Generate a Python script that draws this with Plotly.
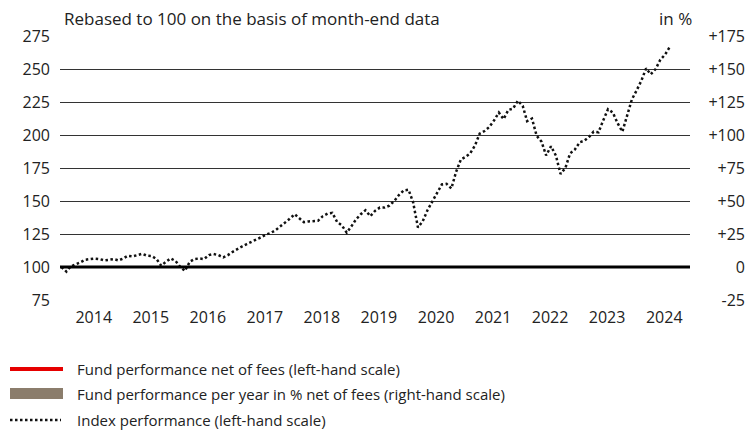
import pandas as pd
import plotly.graph_objects as go

# ---- data ----
index_values = [
    100, 96.5, 100.5, 101.8, 103.5, 105.5, 106.2, 106.4, 106, 105, 105.5, 106,
    105, 106.5, 108.5, 108, 109, 110, 108.6, 108.3, 106, 101, 104, 106.5,
    104.5, 100, 97, 104, 106, 106.5, 106, 109, 109.8, 109, 107.3, 109,
    111.5, 113.8, 115.5, 117.4, 119, 120.5, 122.5, 124.5, 125.8, 127.8, 130.5, 133.5,
    136.5, 140, 137, 134, 134.5, 135, 135, 138.5, 140.5, 141, 134, 131.5,
    126, 131, 136, 140, 143, 138.5, 142.5, 145, 145, 146.5, 150, 154.5,
    158, 158.5, 149, 130, 134.5, 143, 150, 156, 162.5, 163, 159.5, 172,
    181.5, 183.5, 186, 192, 201, 203, 206, 211, 217, 212, 219, 220,
    226, 222, 210.5, 212.5, 199.5, 195, 184.5, 191.5, 184.5, 170.5, 175, 186,
    189, 194.5, 195.6, 198.5, 202.5, 202, 211, 219.5, 217, 209, 202.5, 214,
    227, 234, 241, 250.5, 246, 250, 257, 261, 267,
]
index_dates = pd.date_range("2013-12-31", periods=len(index_values), freq="ME")

fund_values = []          # not shown in the period
fund_yearly_pct = []      # not shown in the period

year_labels = ["2014", "2015", "2016", "2017", "2018", "2019",
               "2020", "2021", "2022", "2023", "2024"]
left_ticks = [75, 100, 125, 150, 175, 200, 225, 250, 275]
right_ticks = [-25, 0, 25, 50, 75, 100, 125, 150, 175]
right_labels = ["-25", "0", "+25", "+50", "+75", "+100", "+125", "+150", "+175"]

legend_items = [
    ("Fund performance net of fees (left-hand scale)", "line", "#e60000"),
    ("Fund performance per year in % net of fees (right-hand scale)", "bar", "#8b7d6c"),
    ("Index performance (left-hand scale)", "dot", "#111111"),
]

FONT = "Open Sans"
TXT = "#222222"

fig = go.Figure()
fig.add_trace(go.Bar(x=[], y=fund_yearly_pct, yaxis="y2", marker_color="#8b7d6c",
                     showlegend=False))
fig.add_trace(go.Scatter(x=[], y=fund_values, mode="lines",
                         line=dict(color="#e60000", width=3), showlegend=False))
fig.add_trace(go.Scatter(x=index_dates, y=index_values, mode="lines",
                         line=dict(color="#111111", width=2.5, dash="2.5px,2.5px"),
                         showlegend=False, hoverinfo="x+y"))

W, H = 755, 430
ML, MR, MT, MB = 60, 3, 36, 130
PW = W - ML - MR
PH = H - MT - MB
xdom = (690 - ML) / PW


def px(x):
    return (x - ML) / PW


def py(y):
    return (H - MB - y) / PH


fig.update_layout(
    width=W, height=H,
    margin=dict(l=ML, r=MR, t=MT, b=MB),
    paper_bgcolor="white", plot_bgcolor="white",
    font=dict(family=FONT, size=16, color=TXT),
    showlegend=False,
    xaxis=dict(
        domain=[0, xdom],
        type="date",
        range=["2013-12-21", "2025-01-06"],
        tickvals=[f"{y}-07-25" for y in year_labels],
        ticktext=year_labels,
        showgrid=False, zeroline=False, showline=False, ticks="",
        ticklabelstandoff=6,
        tickfont=dict(size=16, color=TXT),
    ),
    yaxis=dict(
        range=[75, 275],
        tickvals=left_ticks,
        showgrid=True, gridcolor="#333333", gridwidth=1,
        zeroline=False, showline=False, ticks="",
        ticklabelstandoff=9,
        tickfont=dict(size=16, color=TXT),
    ),
    yaxis2=dict(
        overlaying="y", anchor="free", side="left",
        position=px(745),
        range=[-25, 175],
        tickvals=right_ticks, ticktext=right_labels,
        showgrid=False, zeroline=False, showline=False, ticks="",
        ticklabelstandoff=0,
        tickfont=dict(size=16, color=TXT),
    ),
)

# thick base line at 100 (= 0 %)
fig.add_shape(type="line", xref="x domain", yref="y", x0=0, x1=1, y0=100, y1=100,
              line=dict(color="#000000", width=3))

fig.add_annotation(text="Rebased to 100 on the basis of month-end data",
                   xref="paper", yref="paper", x=px(62), y=py(18),
                   xanchor="left", yanchor="middle", showarrow=False,
                   font=dict(size=17, color=TXT))
fig.add_annotation(text="in %", xref="paper", yref="paper", x=px(694), y=py(18),
                   xanchor="right", yanchor="middle", showarrow=False,
                   font=dict(size=17, color=TXT))

# legend
legend_y = [369, 394, 420]
for (label, kind, color), yy in zip(legend_items, legend_y):
    if kind == "line":
        fig.add_shape(type="line", xref="paper", yref="paper",
                      x0=px(10), x1=px(63), y0=py(yy), y1=py(yy),
                      line=dict(color=color, width=4))
    elif kind == "bar":
        fig.add_shape(type="rect", xref="paper", yref="paper",
                      x0=px(10), x1=px(63), y0=py(yy - 6), y1=py(yy + 5),
                      line=dict(width=0), fillcolor=color)
    else:
        fig.add_shape(type="line", xref="paper", yref="paper",
                      x0=px(10), x1=px(61), y0=py(yy), y1=py(yy),
                      line=dict(color=color, width=2.5, dash="2.5px,2.5px"))
    fig.add_annotation(text=label, xref="paper", yref="paper",
                       x=px(75), y=py(yy), xanchor="left", yanchor="middle",
                       showarrow=False, font=dict(size=15, color=TXT))

fig.write_html(
    "out.html",
    config={"displayModeBar": False},
    post_script="document.body.style.margin='0';document.body.style.overflow='hidden';",
)
